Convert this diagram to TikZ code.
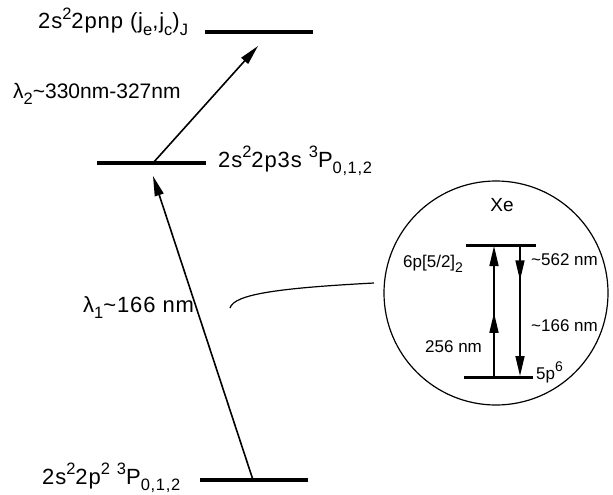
\documentclass[tikz,border=0pt]{standalone}
\usepackage{fontspec}
\setmainfont{Liberation Sans}
\newfontfamily\widefont{Liberation Sans}[LetterSpace=4]
\usetikzlibrary{arrows.meta,decorations.markings}
\newcommand{\myup}[1]{\raisebox{0.45em}{\fontsize{16.5}{16.5}\selectfont #1}}
\newcommand{\mydn}[1]{\raisebox{-0.3em}{\fontsize{16.5}{16.5}\selectfont #1}}
\newcommand{\xup}[1]{\raisebox{0.45em}{\fontsize{14}{14}\selectfont #1}}
\newcommand{\xdn}[1]{\raisebox{-0.32em}{\fontsize{14}{14}\selectfont #1}}
\newcommand{\tld}{\textasciitilde}
\begin{document}
\begin{tikzpicture}[x=1pt,y=-1pt,
  level/.style={line width=3.2pt},
  xlevel/.style={line width=3pt},
  lbl/.style={anchor=base west, inner sep=0pt, font=\widefont\fontsize{22}{22}\selectfont},
  nlbl/.style={anchor=base west, inner sep=0pt, font=\fontsize{21}{21}\selectfont},
  xlbl/.style={anchor=base west, inner sep=0pt, font=\fontsize{17}{17}\selectfont},
  trans/.style={line width=1.6pt, -{Triangle[length=20pt,width=9pt]}},
  midhead/.style={postaction={decorate, decoration={markings,
     mark=at position #1 with {\arrow{Triangle[length=20pt,width=9pt]}}}}}
]
\useasboundingbox (0,0) rectangle (613,495);

% levels
\coordinate (t1) at (205,32);  \coordinate (t2) at (313,32);
\coordinate (m1) at (97,163);  \coordinate (m2) at (206,163);
\coordinate (b1) at (200,480); \coordinate (b2) at (308,480);
\draw[level] (t1) -- (t2);
\draw[level] (m1) -- (m2);
\draw[level] (b1) -- (b2);

% labels
\node[lbl] (lt) at (38,29) {2s\myup{2}2pnp (j\mydn{e},j\mydn{c})\mydn{J}};
\node[lbl] (lm) at (218,167) {2s\myup{2}2p3s \myup{3}P\mydn{0,1,2}};
\node[lbl] (lb) at (42,484) {2s\myup{2}2p\myup{2} \myup{3}P\mydn{0,1,2}};
\node[nlbl] (l2) at (13,98) {λ\mydn{2}\tld330nm-327nm};
\node[lbl] (l1) at (83,312) {λ\mydn{1}\tld166 nm};

% transitions
\coordinate (a2s) at (153,163); \coordinate (a2e) at (258,46);
\draw[trans] (a2s) -- (a2e);
\coordinate (a1s) at (253,480); \coordinate (a1e) at (153,176);
\draw[trans] (a1s) -- (a1e);

% connector curve
\coordinate (c1) at (230,308); \coordinate (c2) at (374,283);
\draw[line width=1.2pt] (c1) .. controls (234,294) and (280,288) .. (c2);

% Xe inset
\node[circle, draw, line width=1.2pt, minimum size=224pt, inner sep=0pt] (xe) at (496,293) {};
\node[anchor=base, inner sep=0pt, font=\fontsize{19}{19}\selectfont] (xet) at (502,211) {Xe};
\coordinate (u1) at (466,245); \coordinate (u2) at (536,245);
\coordinate (d1) at (464,377); \coordinate (d2) at (533,377);
\draw[xlevel] (u1) -- (u2);
\draw[xlevel] (d1) -- (d2);
\coordinate (up1) at (494,377); \coordinate (up2) at (494,246);
\draw[trans, midhead=0.49] (up1) -- (up2);
\coordinate (dn1) at (520,245); \coordinate (dn2) at (520,376);
\draw[trans, midhead=0.27] (dn1) -- (dn2);
\node[xlbl] (x1) at (403,267) {6p[5/2]\xdn{2}};
\node[xlbl] (x2) at (531,265) {\tld562 nm};
\node[xlbl] (x3) at (531,331) {\tld166 nm};
\node[xlbl] (x4) at (425,352) {256 nm};
\node[xlbl] (x5) at (536,379) {5p\xup{6}};
\end{tikzpicture}
\end{document}
